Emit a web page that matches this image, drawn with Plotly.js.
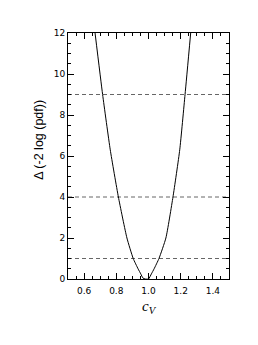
<!DOCTYPE html>
<html><head><meta charset="utf-8">
<script src="https://cdn.plot.ly/plotly-3.0.1.min.js"></script>
<style>html,body{margin:0;padding:0;background:#fff}</style>
</head><body><div id="chart" style="width:258px;height:345px"></div>
<script>
const cvValues = [0.668, 0.715, 0.7625, 0.813, 0.866, 0.905, 0.935, 0.952, 0.965, 0.98, 1.0, 1.018, 1.035, 1.065, 1.108, 1.152, 1.194, 1.227, 1.262];
const deltaValues = [12, 9, 6.3, 4, 2, 1, 0.5, 0.25, 0.05, 0, 0, 0.25, 0.5, 1, 2, 4, 6.3, 9, 12];
const levels = [1, 4, 9];
const xRange = [0.5, 1.5];
const yRange = [0, 12];
const yTitle = 'Δ (-2 log (pdf))';
const xTitle = '<i>c</i><sub><i>V</i></sub>';

const traces = [];
levels.forEach(l => traces.push({x: xRange, y: [l, l], mode: 'lines', line: {color: '#666', width: 1, dash: '4px,3px'}, hoverinfo: 'skip'}));
traces.push({x: cvValues, y: deltaValues, mode: 'lines', line: {color: '#000', width: 1, shape: 'spline', smoothing: 0.5}});

const axBase = {showgrid: false, zeroline: false, showline: true, linecolor: '#000', linewidth: 1,
  mirror: 'allticks', ticks: 'inside', ticklen: 6, tickwidth: 1, tickcolor: '#000',
  tickfont: {family: 'DejaVu Sans', size: 9, color: '#000'}};

const layout = {
  width: 258, height: 345, showlegend: false,
  margin: {l: 68, r: 29, t: 33, b: 66},
  paper_bgcolor: '#fff', plot_bgcolor: '#fff',
  xaxis: Object.assign({}, axBase, {range: xRange, dtick: 0.2, tick0: 0.6, tickformat: '.1f', ticklabelstandoff: 3,
    minor: {dtick: 0.05, ticklen: 3, ticks: 'inside', tickcolor: '#000'},
    title: {text: xTitle, font: {family: 'Liberation Serif', size: 15, color: '#000'}, standoff: 5}}),
  yaxis: Object.assign({}, axBase, {range: yRange, dtick: 2,
    minor: {dtick: 0.5, ticklen: 3, ticks: 'inside', tickcolor: '#000'}}),
  annotations: [{text: yTitle, xref: 'paper', yref: 'paper', x: -0.18, y: 0.566,
    xanchor: 'center', yanchor: 'middle', textangle: -90, showarrow: false,
    font: {family: 'Liberation Sans', size: 12.5, color: '#000'}}]
};
Plotly.newPlot('chart', traces, layout, {staticPlot: true, displayModeBar: false});
</script></body></html>
